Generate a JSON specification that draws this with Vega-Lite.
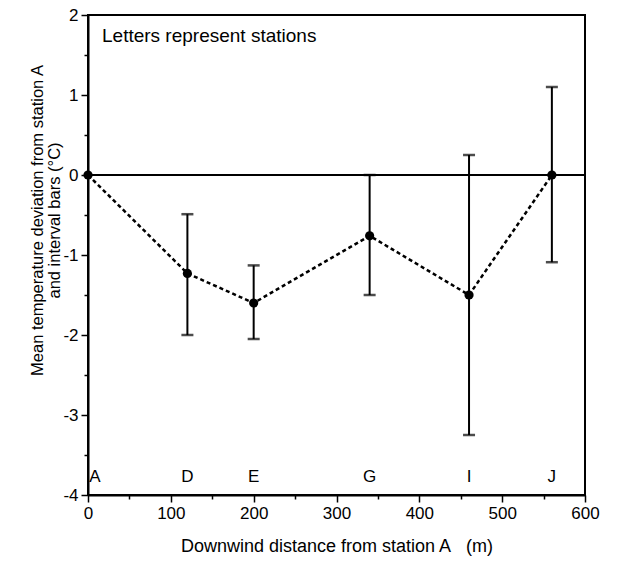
{
  "$schema": "https://vega.github.io/schema/vega-lite/v6.json",
  "width": 497,
  "height": 480,
  "autosize": "none",
  "padding": {"left": 88, "top": 15, "right": 35, "bottom": 66},
  "background": "white",
  "title": {
    "text": "Letters represent stations",
    "anchor": "start",
    "frame": "group",
    "orient": "top",
    "offset": -49,
    "dx": 14,
    "fontSize": 19,
    "fontWeight": "normal",
    "color": "black",
    "font": "Liberation Sans",
    "baseline": "middle"
  },
  "config": {
    "font": "Liberation Sans",
    "view": {"stroke": "black", "strokeWidth": 2},
    "axis": {
      "domainColor": "black", "domainWidth": 2,
      "tickColor": "black", "tickWidth": 1.5,
      "labelColor": "black", "labelFontSize": 17,
      "titleColor": "black", "titleFontSize": 17, "titleFontWeight": "normal",
      "grid": false
    }
  },
  "data": {"values": [
    {"station": "A", "distance": 0, "mean": 0, "low": 0, "high": 0},
    {"station": "D", "distance": 120, "mean": -1.23, "low": -2.0, "high": -0.49},
    {"station": "E", "distance": 200, "mean": -1.6, "low": -2.05, "high": -1.13},
    {"station": "G", "distance": 340, "mean": -0.76, "low": -1.5, "high": 0.0},
    {"station": "I", "distance": 460, "mean": -1.5, "low": -3.25, "high": 0.25},
    {"station": "J", "distance": 560, "mean": 0, "low": -1.09, "high": 1.1}
  ]},
  "encoding": {
    "x": {
      "field": "distance", "type": "quantitative",
      "scale": {"domain": [0, 600], "nice": false},
      "axis": {
        "values": [0, 50, 100, 150, 200, 250, 300, 350, 400, 450, 500, 550, 600],
        "labelExpr": "datum.value % 100 === 0 ? '' + datum.value : ''",
        "tickSize": {"condition": {"test": "datum.value % 100 === 0", "value": 7}, "value": 4},
        "labelPadding": 3,
        "labelFlush": false,
        "title": "Downwind distance from station A\u00a0\u00a0\u00a0(m)",
        "titleFontSize": 18,
        "titlePadding": 16
      }
    },
    "y": {
      "type": "quantitative",
      "scale": {"domain": [-4, 2], "nice": false},
      "axis": {
        "values": [-4, -3.5, -3, -2.5, -2, -1.5, -1, -0.5, 0, 0.5, 1, 1.5, 2],
        "labelExpr": "datum.value % 1 === 0 ? (datum.value < 0 ? '-' + abs(datum.value) : '' + datum.value) : ''",
        "tickSize": {"condition": {"test": "datum.value % 1 === 0", "value": 7}, "value": 4},
        "labelPadding": 3,
        "labelFlush": false,
        "title": ["Mean temperature deviation from station A", "and interval bars (°C)"],
        "titleFontSize": 16.5,
        "titleAngle": -90,
        "titleAlign": "center",
        "titleBaseline": "middle",
        "titleLineHeight": 17,
        "titleX": -51,
        "titleY": 205
      }
    }
  },
  "layer": [
    {
      "mark": {"type": "rule", "color": "black", "strokeWidth": 2},
      "encoding": {"y": {"datum": 0}, "x": {"datum": 0}, "x2": {"datum": 600}}
    },
    {
      "mark": {"type": "line", "color": "black", "strokeWidth": 2.5, "strokeDash": [4, 3]},
      "encoding": {"y": {"field": "mean"}}
    },
    {
      "transform": [{"filter": "datum.station !== 'A'"}],
      "mark": {"type": "rule", "color": "black", "strokeWidth": 2},
      "encoding": {"y": {"field": "low"}, "y2": {"field": "high"}}
    },
    {
      "transform": [{"filter": "datum.station !== 'A'"}],
      "mark": {"type": "tick", "orient": "horizontal", "color": "black", "size": 12, "thickness": 2.5},
      "encoding": {"y": {"field": "low"}}
    },
    {
      "transform": [{"filter": "datum.station !== 'A'"}],
      "mark": {"type": "tick", "orient": "horizontal", "color": "black", "size": 12, "thickness": 2.5},
      "encoding": {"y": {"field": "high"}}
    },
    {
      "mark": {"type": "point", "filled": true, "color": "black", "opacity": 1, "size": 85},
      "encoding": {"y": {"field": "mean"}}
    },
    {
      "transform": [{"filter": "datum.station !== 'A'"}],
      "mark": {"type": "text", "fontSize": 17, "color": "black", "baseline": "middle", "align": "center"},
      "encoding": {"y": {"datum": -3.77}, "text": {"field": "station"}}
    },
    {
      "transform": [{"filter": "datum.station === 'A'"}],
      "mark": {"type": "text", "fontSize": 17, "color": "black", "baseline": "middle", "align": "center", "dx": 7},
      "encoding": {"y": {"datum": -3.77}, "text": {"field": "station"}}
    }
  ]
}
